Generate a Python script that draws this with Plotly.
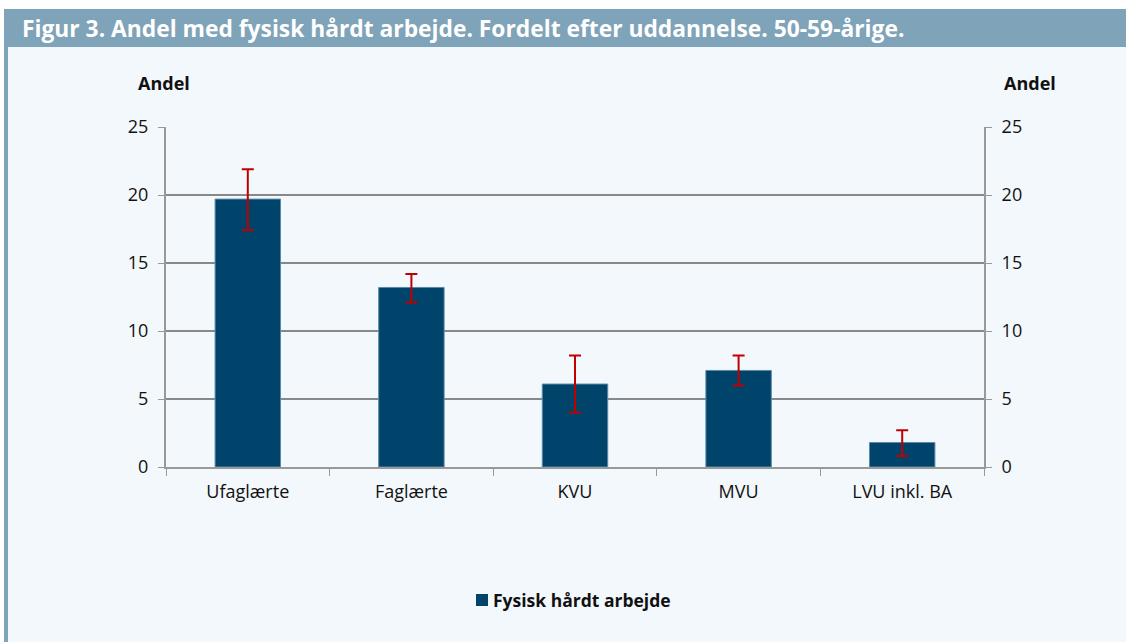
import plotly.graph_objects as go

categories = ["Ufaglærte", "Faglærte", "KVU", "MVU", "LVU inkl. BA"]
values = [19.7, 13.2, 6.1, 7.1, 1.8]
err_high = [21.9, 14.2, 8.2, 8.2, 2.7]
err_low = [17.4, 12.1, 4.0, 6.0, 0.8]
series_name = "Fysisk hårdt arbejde"
y_ticks = [0, 5, 10, 15, 20, 25]

err_plus = [h - v for h, v in zip(err_high, values)]
err_minus = [v - l for l, v in zip(err_low, values)]

W, H = 1126, 642
L, R, T, B = 166, 984, 127, 467
BAR_COLOR = "#00446B"

def px(x):
    return (x - L) / (R - L)

def py(y):
    return (B - y) / (B - T)

fig = go.Figure()
fig.add_trace(go.Bar(
    x=categories, y=values, name=series_name,
    marker=dict(color=BAR_COLOR, line=dict(color="#5B8AA8", width=1)),
    width=0.4, showlegend=False,
    error_y=dict(type="data", symmetric=False, array=err_plus, arrayminus=err_minus,
                 color="#C00000", thickness=2, width=6),
))
fig.add_trace(go.Scatter(x=categories, y=values, yaxis="y2", mode="markers",
                         marker=dict(opacity=0), showlegend=False, hoverinfo="skip"))

shapes = [
    dict(type="rect", xref="paper", yref="paper", x0=px(4), x1=px(W), y0=py(47), y1=py(9),
         fillcolor="#7FA3B8", line=dict(width=0), layer="below"),
    dict(type="rect", xref="paper", yref="paper", x0=px(8), x1=px(W), y0=py(H), y1=py(47),
         fillcolor="#F3F8FC", line=dict(width=0), layer="below"),
    dict(type="rect", xref="paper", yref="paper", x0=px(4), x1=px(8), y0=py(H), y1=py(47),
         fillcolor="#7FA3B8", line=dict(width=0), layer="below"),
    # legend swatch
    dict(type="rect", xref="paper", yref="paper", x0=px(476), x1=px(488), y0=py(606), y1=py(594),
         fillcolor=BAR_COLOR, line=dict(width=0)),
]

font_main = "'Open Sans', sans-serif"

axis_common = dict(range=[0, 25], tickvals=y_ticks, showgrid=True, gridcolor="#888888",
                   gridwidth=2, showline=True, linecolor="#999999", linewidth=2,
                   ticks="outside", ticklen=6, tickcolor="#999999", zeroline=False,
                   ticklabelstandoff=6,
                   tickfont=dict(size=18, color="#111111", family=font_main), fixedrange=True)

fig.update_layout(
    width=W, height=H,
    margin=dict(l=L, r=W - R, t=T, b=H - B),
    paper_bgcolor="white", plot_bgcolor="rgba(0,0,0,0)",
    shapes=shapes,
    showlegend=False,
    xaxis=dict(showline=True, linecolor="#999999", linewidth=2, ticks="outside",
               tickson="boundaries", ticklen=7, tickcolor="#999999", ticklabelstandoff=7,
               tickfont=dict(size=18, color="#111111", family=font_main), fixedrange=True),
    yaxis=dict(**axis_common),
    yaxis2=dict(**axis_common, overlaying="y", side="right", matches="y"),
    bargap=0.6,
    annotations=[
        dict(text="<b>Figur 3. Andel med fysisk hårdt arbejde. Fordelt efter uddannelse. 50-59-årige.</b>",
             xref="paper", yref="paper", x=px(20), y=py(29), xanchor="left", yanchor="middle",
             showarrow=False, font=dict(size=22.8, color="white", family=font_main)),
        dict(text="<b>Andel</b>", xref="paper", yref="paper", x=px(164), y=py(83),
             xanchor="center", yanchor="middle", showarrow=False,
             font=dict(size=18, color="#111111", family=font_main)),
        dict(text="<b>Andel</b>", xref="paper", yref="paper", x=px(1030), y=py(83),
             xanchor="center", yanchor="middle", showarrow=False,
             font=dict(size=18, color="#111111", family=font_main)),
        dict(text="<b>" + series_name + "</b>", xref="paper", yref="paper", x=px(491), y=py(600),
             xanchor="left", yanchor="middle", showarrow=False,
             font=dict(size=17.5, color="#111111", family=font_main)),
    ],
)

fig.write_html("out.html", config={"displayModeBar": False},
               post_script="document.body.style.margin='0';document.body.style.overflow='hidden';")
